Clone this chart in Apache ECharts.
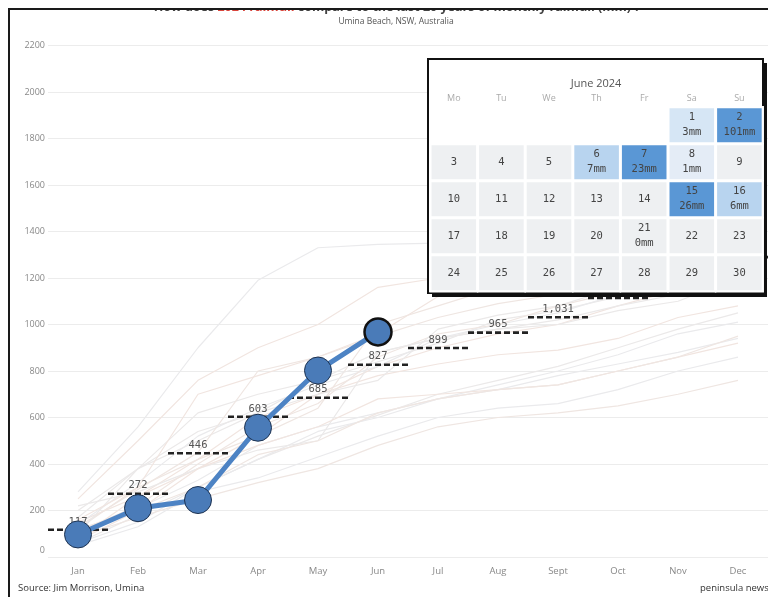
<!DOCTYPE html>
<html>
<head>
<meta charset="utf-8">
<script src="https://cdn.jsdelivr.net/npm/echarts@6/dist/echarts.min.js"></script>
<style>html,body{margin:0;padding:0;background:#fff}#c{width:768px;height:597px}</style>
</head>
<body>
<div id="c"></div>
<script>
// ---- data ----
const months = ['Jan','Feb','Mar','Apr','May','Jun','Jul','Aug','Sept','Oct','Nov','Dec'];
const rain2024 = [97, 210, 245, 556, 802, 968];
const avgRain = [117, 272, 446, 603, 685, 827, 899, 965, 1031, 1114, 1190, 1290];
const yMin = 0, yMax = 2200, yStep = 200;

// past years, cumulative monthly rainfall (mm), estimated from faint lines
const y2004 = [60,180,300,420,520,610,700,760,820,900,980,1050];
const y2005 = [150,260,420,600,700,820,900,960,1000,1080,1150,1230];
const y2006 = [90,210,330,480,560,620,680,740,800,870,960,1010];
const y2007 = [120,300,420,520,640,1000,1080,1160,1200,1260,1330,1420];
const y2008 = [200,380,500,620,760,840,920,1020,1060,1120,1180,1260];
const y2009 = [80,260,380,520,700,780,830,870,890,940,1030,1080];
const y2010 = [140,320,520,640,740,820,940,1000,1050,1130,1200,1300];
const y2011 = [110,220,400,560,660,860,960,1000,1080,1140,1260,1320];
const y2012 = [170,380,620,700,760,880,940,980,1000,1060,1100,1200];
const y2013 = [250,500,760,900,1000,1160,1200,1220,1240,1280,1320,1380];
const y2014 = [60,150,300,420,540,600,680,720,780,830,880,940];
const y2015 = [130,290,450,800,860,950,1030,1090,1130,1180,1250,1300];
const y2016 = [220,280,380,460,500,880,940,980,1020,1080,1130,1200];
const y2017 = [70,200,380,480,560,680,700,720,740,800,860,920];
const y2018 = [50,130,280,340,430,520,600,640,660,720,800,860];
const y2019 = [90,170,250,320,380,480,560,600,620,650,700,760];
const y2020 = [100,380,540,620,700,760,980,1040,1080,1160,1250,1330];
const y2021 = [160,300,700,780,860,960,1120,1160,1200,1260,1380,1450];
const y2022 = [280,560,900,1190,1330,1345,1350,1420,1480,1560,1650,1720];
const y2023 = [120,200,300,440,500,620,680,720,740,800,860,950];
const pastYears = [y2004,y2005,y2006,y2007,y2008,y2009,y2010,y2011,y2012,y2013,
                   y2014,y2015,y2016,y2017,y2018,y2019,y2020,y2021,y2022,y2023];

// June 2024 daily rainfall
const juneDays = [1, 2, 6, 7, 8, 15, 16, 21];
const juneMM   = [3, 101, 7, 23, 1, 26, 6, 0];

// ---- build ----
const chart = echarts.init(document.getElementById('c'), null, {renderer:'canvas'});
const mmByDay = {};
juneDays.forEach((d, i) => { mmByDay[d] = juneMM[i]; });
const calData = [];
for (let d = 1; d <= 30; d++) {
  calData.push(['2024-06-' + (d < 10 ? '0' + d : d), mmByDay[d] !== undefined ? mmByDay[d] : 0]);
}
const pastColors = ['#ebe9e9', '#f1e5e0', '#eaeaec', '#efe6e2'];
const series = pastYears.map((arr, i) => ({
  type: 'line', data: arr, symbol: 'none', silent: true, z: 1,
  lineStyle: {color: pastColors[i % pastColors.length], width: 1.2}
}));

series.push({
  type: 'custom', z: 2, silent: true,
  data: avgRain.map((v, i) => [i, v]),
  renderItem: function (params, api) {
    const p = api.coord([api.value(0), api.value(1)]);
    const bw = api.size([1, 0])[0];
    return {
      type: 'group',
      children: [
        {type: 'line', shape: {x1: p[0] - bw / 2, y1: p[1], x2: p[0] + bw / 2, y2: p[1]},
         style: {stroke: '#222', lineWidth: 2.6, lineDash: [6, 3]}},
        {type: 'text', x: p[0], y: p[1] - 8,
         style: {text: api.value(1).toLocaleString('en-US'), fill: '#555', font: '10.5px "DejaVu Sans Mono"',
                 align: 'center', verticalAlign: 'middle'}}
      ]
    };
  }
});

series.push({
  type: 'line', z: 3,
  data: rain2024.map((v, i) => i === rain2024.length - 1
    ? {value: v, itemStyle: {borderColor: '#111', borderWidth: 2.5}}
    : v),
  symbol: 'circle', symbolSize: 27,
  lineStyle: {color: '#4d83c4', width: 5},
  itemStyle: {color: '#4a7bb8', borderColor: '#1d3250', borderWidth: 1}
});

const heatIndex = series.length;
series.push({
  type: 'heatmap', coordinateSystem: 'calendar', calendarIndex: 0, z: 21,
  data: calData,
  itemStyle: {borderColor: '#fff', borderWidth: 1.5},
  label: {
    show: true,
    formatter: function (p) {
      const day = parseInt(p.value[0].slice(8), 10);
      const has = mmByDay[day] !== undefined;
      return '{d|' + day + '}' + (has ? '\n{m|' + mmByDay[day] + 'mm}' : '');
    },
    rich: {
      d: {fontFamily: 'DejaVu Sans Mono', fontSize: 10.5, color: '#444', lineHeight: 15},
      m: {fontFamily: 'DejaVu Sans Mono', fontSize: 10.5, color: '#444', lineHeight: 15}
    }
  }
});

const option = {
  animation: false,
  backgroundColor: '#fff',
  grid: {left: 48, right: -6, top: 45.5, bottom: 40},
  xAxis: {
    type: 'category', data: months, boundaryGap: true,
    axisLine: {show: false}, axisTick: {show: false},
    axisLabel: {color: '#888', fontSize: 9.5, fontFamily: 'Open Sans', margin: 9}
  },
  yAxis: {
    type: 'value', min: yMin, max: yMax, interval: yStep,
    axisLine: {show: false}, axisTick: {show: false},
    axisLabel: {color: '#888', fontSize: 9, fontFamily: 'Open Sans', margin: 3,
                formatter: v => v === 0 ? '{z|0}' : String(v),
                rich: {z: {color: '#888', fontSize: 9, fontFamily: 'Open Sans', padding: [0, 0, 14, 0]}}},
    splitLine: {lineStyle: {color: '#ececec', width: 1}}
  },
  calendar: {
    orient: 'vertical', range: '2024-06', left: 430, top: 106.7,
    cellSize: [47.6, 37], z: 20,
    splitLine: {show: false},
    itemStyle: {color: '#eef0f2', borderColor: '#fff', borderWidth: 1.5},
    dayLabel: {firstDay: 1, position: 'start', margin: 4,
               nameMap: ['Su','Mo','Tu','We','Th','Fr','Sa'],
               color: '#aaa', fontSize: 9, fontFamily: 'Open Sans'},
    monthLabel: {show: false},
    yearLabel: {show: false}
  },
  visualMap: {
    type: 'piecewise', show: false, seriesIndex: heatIndex, dimension: 1,
    pieces: [
      {max: 0.5, color: '#eef0f2'},
      {min: 0.5, max: 2, color: '#e4ecf6'},
      {min: 2, max: 5, color: '#d6e6f5'},
      {min: 5, max: 15, color: '#b8d4ef'},
      {min: 15, color: '#5a97d5'}
    ]
  },
  graphic: [
    {type: 'rect', z: 9, silent: true,
     shape: {x: 432, y: 63, width: 335, height: 234},
     style: {fill: '#111'}},
    {type: 'rect', z: 10, silent: true,
     shape: {x: 428, y: 59, width: 335, height: 234},
     style: {fill: '#fff', stroke: '#111', lineWidth: 2}},
    {type: 'text', z: 30, x: 596, y: 84,
     style: {text: 'June 2024', fill: '#555', font: '11px "Open Sans"', align: 'center', verticalAlign: 'middle'}},
    {type: 'text', z: 50, x: 397, y: 7,
     style: {text: '{a|How does }{r|2024 rainfall}{a| compare to the last 20 years of monthly rainfall (mm) ?}',
             align: 'center', verticalAlign: 'middle',
             rich: {a: {fill: '#444', fontWeight: 'bold', fontSize: 12.5, fontFamily: 'Open Sans'},
                    r: {fill: '#d9453c', fontWeight: 'bold', fontSize: 12.5, fontFamily: 'Open Sans'}}}},
    {type: 'text', z: 50, x: 396, y: 22,
     style: {text: 'Umina Beach, NSW, Australia', fill: '#555', font: '8.5px "Open Sans"', align: 'center', verticalAlign: 'middle'}},
    {type: 'rect', z: 60, silent: true, shape: {x: 0, y: 0, width: 768, height: 8}, style: {fill: '#fff'}},
    {type: 'rect', z: 61, silent: true, shape: {x: 8, y: 8, width: 760, height: 2}, style: {fill: '#1a1a1a'}},
    {type: 'rect', z: 61, silent: true, shape: {x: 8, y: 8, width: 2, height: 589}, style: {fill: '#1a1a1a'}},
    {type: 'text', z: 50, x: 18, y: 588,
     style: {text: 'Source: Jim Morrison, Umina', fill: '#333', font: '9.5px "Open Sans"', align: 'left', verticalAlign: 'middle'}},
    {type: 'text', z: 50, x: 700, y: 588,
     style: {text: 'peninsula news', fill: '#333', font: '9.5px "Open Sans"', align: 'left', verticalAlign: 'middle'}}
  ],
  series: series
};
chart.setOption(option);
</script>
</body>
</html>
